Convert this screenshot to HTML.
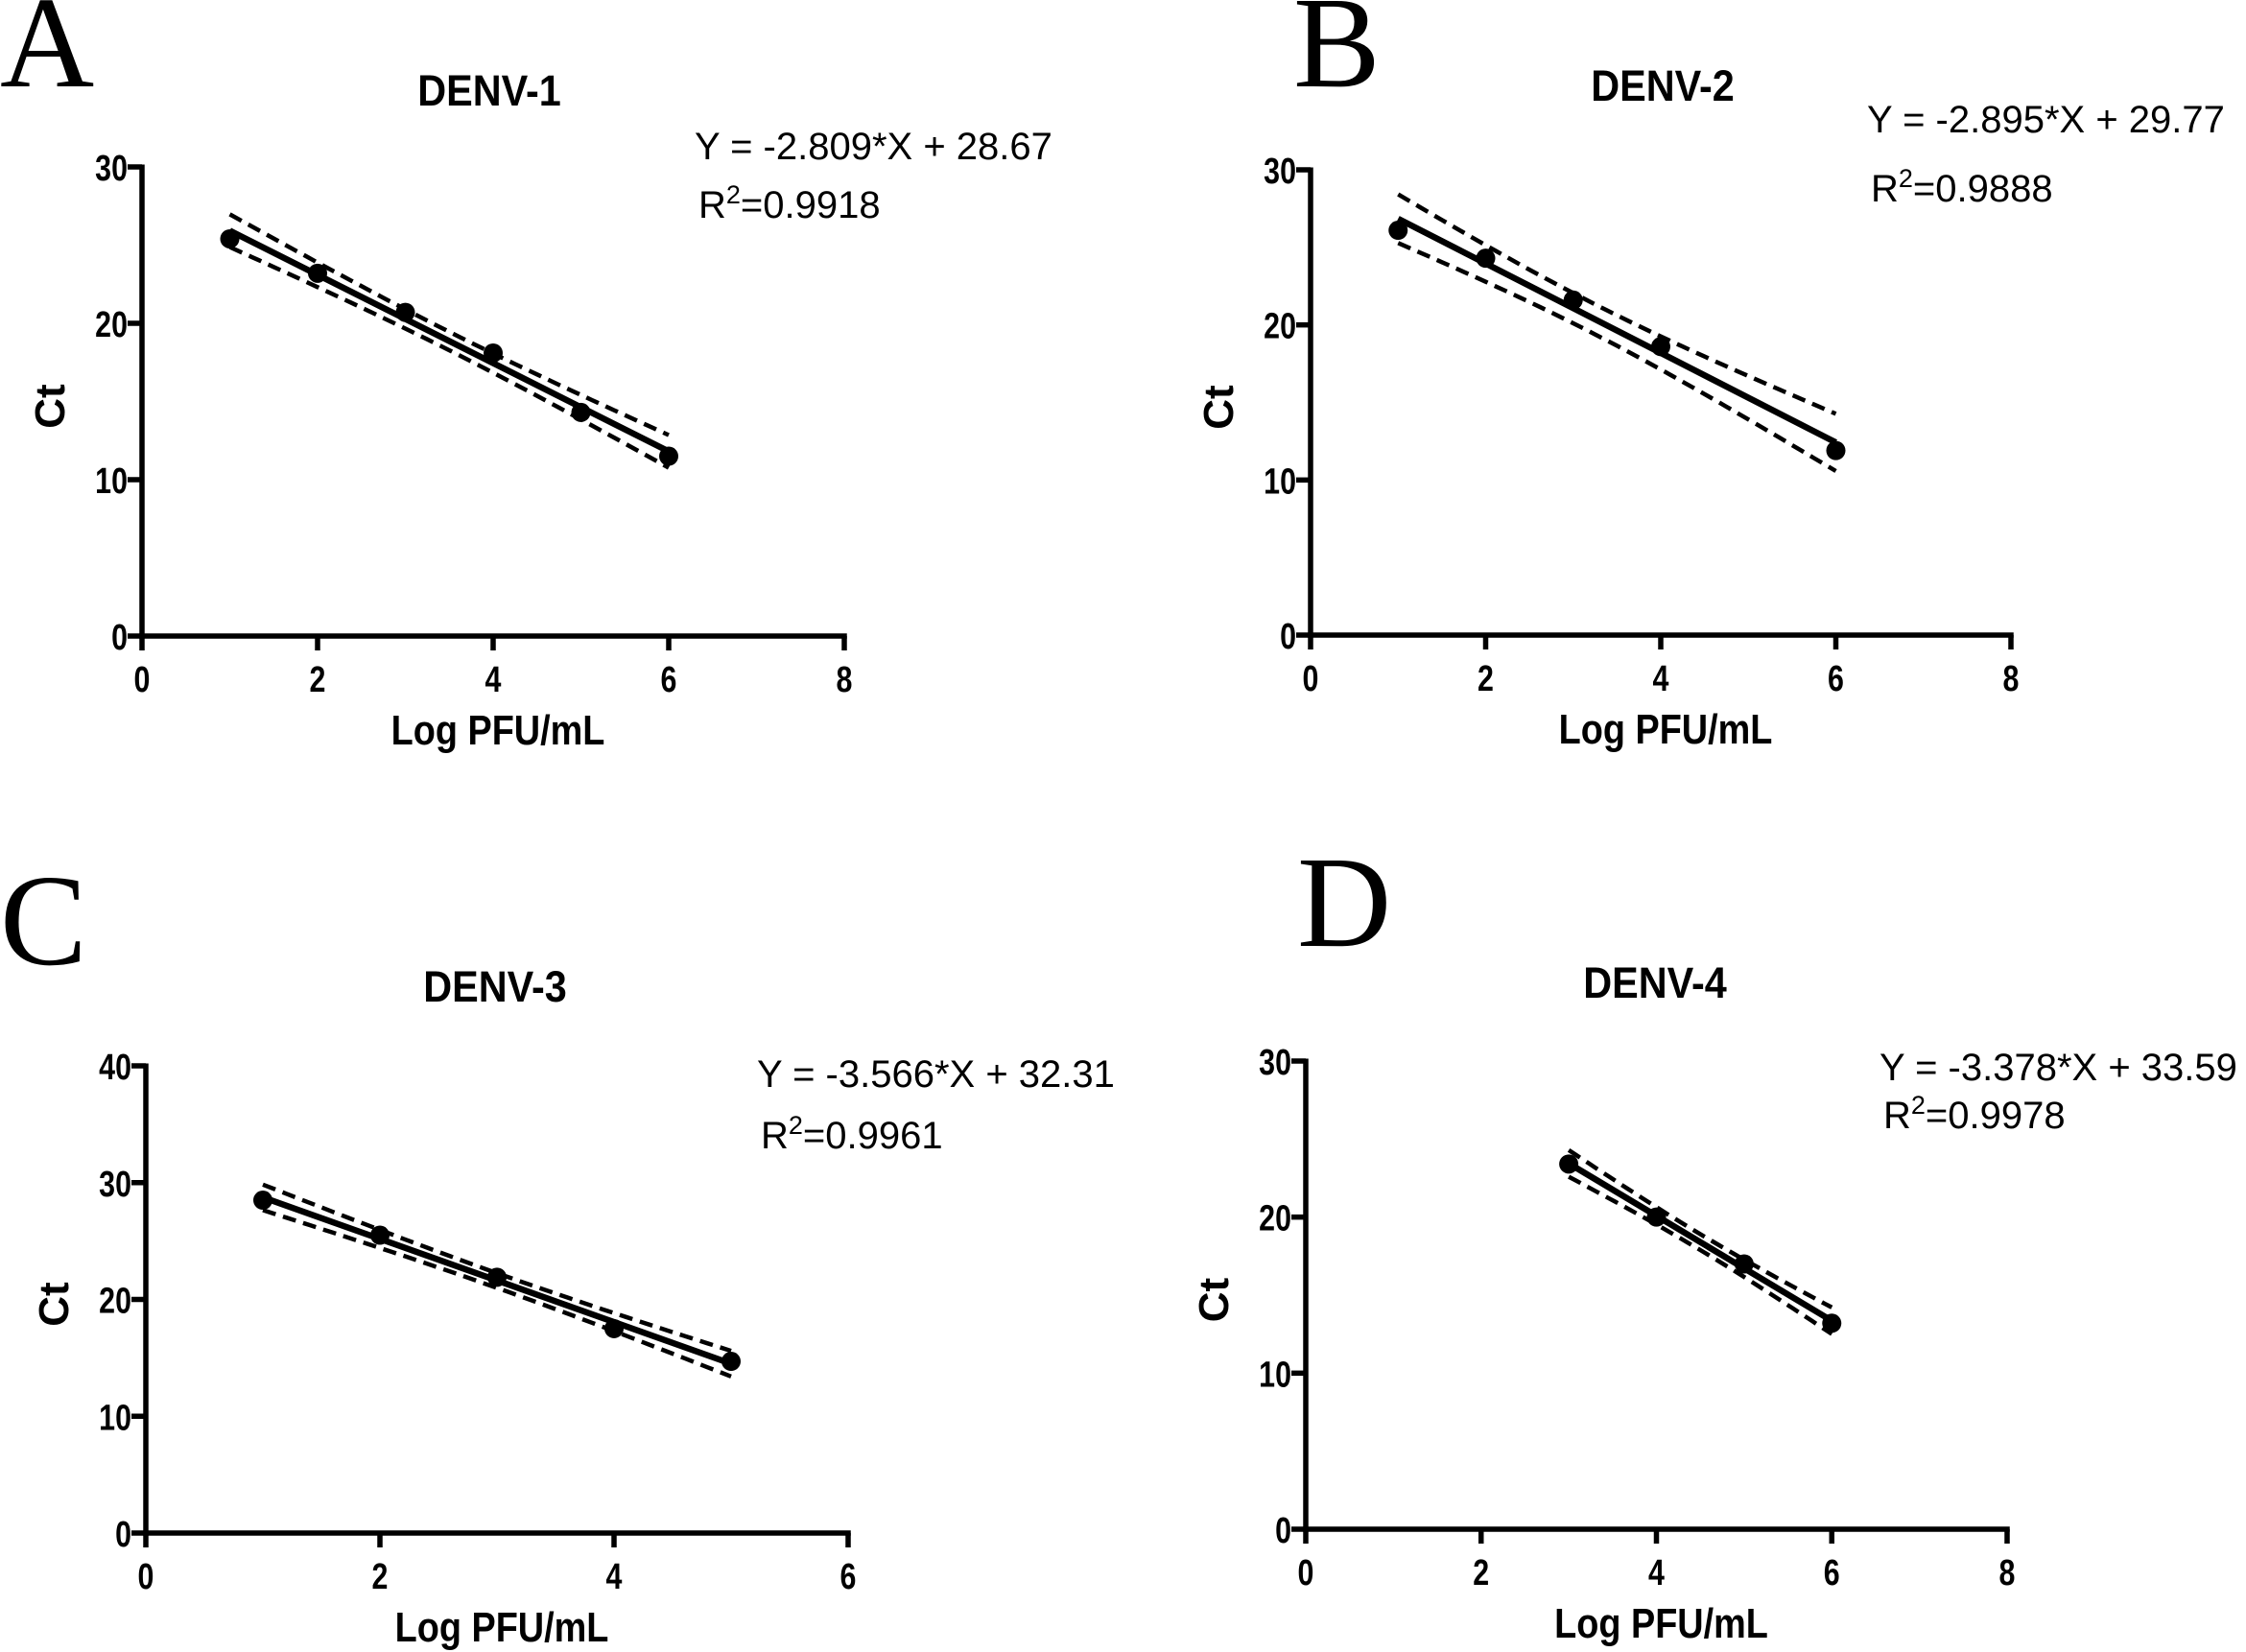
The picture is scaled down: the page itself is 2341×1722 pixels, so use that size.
<!DOCTYPE html>
<html><head><meta charset="utf-8"><style>
html,body{margin:0;padding:0;background:#fff;}
svg{display:block;}
.tick{font-family:"Liberation Sans",sans-serif;font-weight:bold;font-size:38px;fill:#000;}
.ttl{font-family:"Liberation Sans",sans-serif;font-weight:bold;font-size:45px;fill:#000;}
.axt{font-family:"Liberation Sans",sans-serif;font-weight:bold;font-size:44px;fill:#000;}
.eq{font-family:"Liberation Sans",sans-serif;font-size:40px;fill:#000;}
.let{font-family:"Liberation Serif",serif;font-size:136px;fill:#000;}
</style></head><body>
<svg id="fig" width="2341" height="1722" viewBox="0 0 2341 1722" xmlns="http://www.w3.org/2000/svg"></svg>
<script>
// Panel A: DENV-1
const xA = [1, 2, 3, 4, 5, 6];
const yA = [25.4, 23.2, 20.7, 18.1, 14.3, 11.5];
// Panel B: DENV-2
const xB = [1, 2, 3, 4, 6];
const yB = [26.1, 24.3, 21.6, 18.6, 11.9];
// Panel C: DENV-3
const xC = [1, 2, 3, 4, 5];
const yC = [28.5, 25.5, 21.9, 17.5, 14.7];
// Panel D: DENV-4
const xD = [3, 4, 5, 6];
const yD = [23.4, 20.0, 17.0, 13.2];
const titles = ["DENV-1", "DENV-2", "DENV-3", "DENV-4"];
const equations = ["Y = -2.809*X + 28.67", "Y = -2.895*X + 29.77", "Y = -3.566*X + 32.31", "Y = -3.378*X + 33.59"];
const r2Values = ["0.9918", "0.9888", "0.9961", "0.9978"];
const xTicksAB = [0, 2, 4, 6, 8];
const xTicksC = [0, 2, 4, 6];
const yTicks30 = [0, 10, 20, 30];
const yTicks40 = [0, 10, 20, 30, 40];
const tCrit = {2: 4.303, 3: 3.182, 4: 2.776};

const NS = "http://www.w3.org/2000/svg";
const svg = document.getElementById("fig");
function mk(tag, attrs, parent) {
  const e = document.createElementNS(NS, tag);
  for (const k in attrs) e.setAttribute(k, attrs[k]);
  (parent || svg).appendChild(e);
  return e;
}

const panels = [
  {letter:"A", lx:0, ly:90, xs:xA, ys:yA, x0:148, x1:880, xmax:8, y0:663, y1:174, ymax:30, xt:xTicksAB, yt:yTicks30, tx:510, ty:110, ex:724, ey:166, ry:227},
  {letter:"B", lx:1348, ly:90, xs:xB, ys:yB, x0:1366, x1:2096, xmax:8, y0:662, y1:177, ymax:30, xt:xTicksAB, yt:yTicks30, tx:1733, ty:105, ex:1946, ey:138, ry:210},
  {letter:"C", lx:0, ly:1005, xs:xC, ys:yC, x0:152, x1:884, xmax:6, y0:1598, y1:1111, ymax:40, xt:xTicksC, yt:yTicks40, tx:516, ty:1044, ex:789, ey:1133, ry:1197},
  {letter:"D", lx:1352, ly:986, xs:xD, ys:yD, x0:1361, x1:2092, xmax:8, y0:1594, y1:1106, ymax:30, xt:xTicksAB, yt:yTicks30, tx:1725, ty:1040, ex:1959, ey:1126, ry:1176}
];

panels.forEach((p, i) => {
  const g = mk("g", {});
  
  
  const X = v => p.x0 + (p.x1 - p.x0) * v / p.xmax;
  const Y = v => p.y0 - (p.y0 - p.y1) * v / p.ymax;

  const L = mk("text", {x:p.lx, y:p.ly, class:"let"}, g); L.textContent = p.letter;
  
  
  const T = mk("text", {x:0, y:0, class:"ttl", "text-anchor":"middle", transform:`translate(${p.tx} ${p.ty}) scale(0.92 1)`}, g); T.textContent = titles[i];
  
  
  const E = mk("text", {x:p.ex, y:p.ey, class:"eq"}, g); E.textContent = equations[i];
  
  
  const R = mk("text", {x:p.ex + 4, y:p.ry, class:"eq"}, g);
  
  
  const r1 = mk("tspan", {}, R); r1.textContent = "R";
  const r2 = mk("tspan", {dy:-15, "font-size":"27px"}, R); r2.textContent = "2";
  const r3 = mk("tspan", {dy:15}, R); r3.textContent = "=" + r2Values[i];

  // axes
  const ax = mk("g", {stroke:"#000", "stroke-width":5.5, fill:"none"}, g);
  
  
  mk("line", {x1:p.x0, y1:p.y1 - 2.5, x2:p.x0, y2:p.y0 + 2.75}, ax);
  mk("line", {x1:p.x0 - 2.75, y1:p.y0, x2:p.x1 + 2.75, y2:p.y0}, ax);
  p.xt.forEach(v => {
    mk("line", {x1:X(v), y1:p.y0, x2:X(v), y2:p.y0 + 15}, ax);
    const t = mk("text", {x:0, y:0, class:"tick", "text-anchor":"middle", transform:`translate(${X(v)} ${p.y0 + 58}) scale(0.8 1)`}, g); t.textContent = v;
    
    
  });
  p.yt.forEach(v => {
    mk("line", {x1:p.x0 - 15, y1:Y(v), x2:p.x0, y2:Y(v)}, ax);
    const t = mk("text", {x:0, y:0, class:"tick", "text-anchor":"end", transform:`translate(${p.x0 - 15} ${Y(v) + 14}) scale(0.8 1)`}, g); t.textContent = v;
    
    
  });
  const xl = mk("text", {x:0, y:0, class:"axt", "text-anchor":"middle", transform:`translate(${(p.x0 + p.x1) / 2 + 5} ${p.y0 + 113}) scale(0.86 1)`}, g); xl.textContent = "Log PFU/mL";
  
  
  const yc = (p.y0 + p.y1) / 2 + 5;
  const yl = mk("text", {x:0, y:0, class:"axt", "text-anchor":"middle", transform:`translate(${p.x0 - 81} ${yc}) rotate(-90)`}, g); yl.textContent = "Ct";
  
  

  // regression from data
  const n = p.xs.length;
  const mx = p.xs.reduce((a, b) => a + b, 0) / n, my = p.ys.reduce((a, b) => a + b, 0) / n;
  let sxx = 0, sxy = 0;
  p.xs.forEach((x, k) => { sxx += (x - mx) ** 2; sxy += (x - mx) * (p.ys[k] - my); });
  const b = sxy / sxx, a = my - b * mx;
  let sse = 0; p.xs.forEach((x, k) => { sse += (p.ys[k] - a - b * x) ** 2; });
  const s = Math.sqrt(sse / (n - 2)), tc = tCrit[n - 2];
  const xmin = Math.min(...p.xs), xmaxD = Math.max(...p.xs);
  const band = sign => {
    let d = "";
    for (let k = 0; k <= 40; k++) {
      const x = xmin + (xmaxD - xmin) * k / 40;
      const h = tc * s * Math.sqrt(1 / n + (x - mx) ** 2 / sxx);
      d += (k ? "L" : "M") + X(x).toFixed(1) + " " + Y(a + b * x + sign * h).toFixed(1);
    }
    return d;
  };
  const up = mk("path", {d:band(1), stroke:"#000", "stroke-width":4.5, fill:"none", "stroke-dasharray":"14 8"}, g);
  
  
  const lo = mk("path", {d:band(-1), stroke:"#000", "stroke-width":4.5, fill:"none", "stroke-dasharray":"14 8"}, g);
  
  
  const fit = mk("line", {x1:X(xmin), y1:Y(a + b * xmin), x2:X(xmaxD), y2:Y(a + b * xmaxD), stroke:"#000", "stroke-width":6.5}, g);
  
  
  p.xs.forEach((x, k) => {
    const c = mk("circle", {cx:X(x), cy:Y(p.ys[k]), r:10, fill:"#000"}, g);
    
    
  });
});
</script>
</body></html>
